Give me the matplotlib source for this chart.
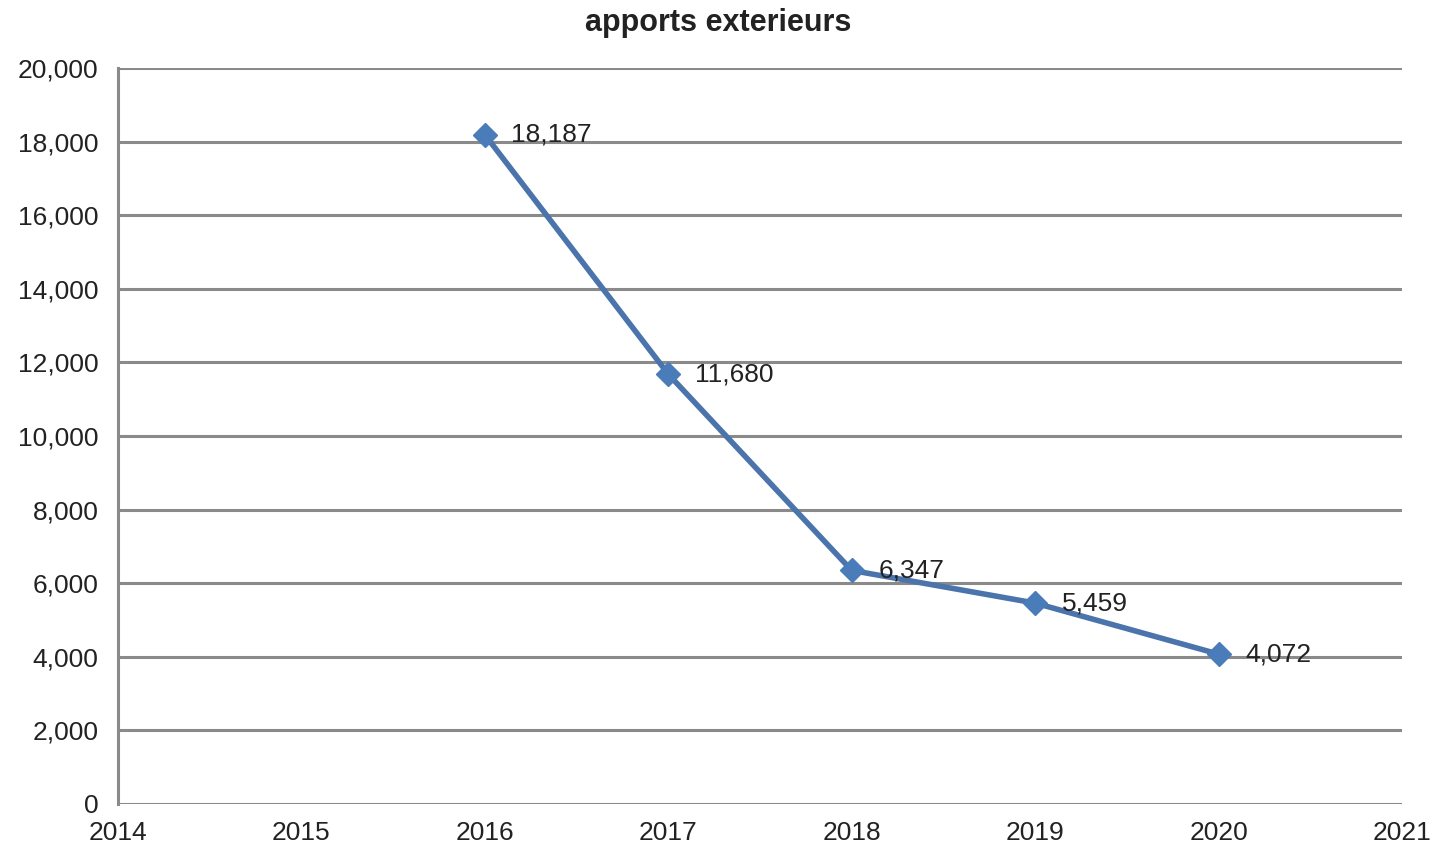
import matplotlib
matplotlib.use("Agg")
from matplotlib import pyplot as plt

# data
years = [2016, 2017, 2018, 2019, 2020]
values = [18187, 11680, 6347, 5459, 4072]
labels = ["18,187", "11,680", "6,347", "5,459", "4,072"]
x_ticks = [2014, 2015, 2016, 2017, 2018, 2019, 2020, 2021]
y_ticks = [0, 2000, 4000, 6000, 8000, 10000, 12000, 14000, 16000, 18000, 20000]

plt.rcParams['font.family'] = ['Liberation Sans', 'DejaVu Sans']

fig = plt.figure(figsize=(14.37, 8.48), dpi=100)
ax = fig.add_axes([0.0821, 0.0519, 0.8936, 0.8679])

grid_color = "#8a8a8a"
for y in y_ticks:
    ax.axhline(y, color=grid_color, linewidth=2.2, zorder=1)

ax.plot(years, values, color="#4a74ab", linewidth=4, marker="D",
        markersize=12, markerfacecolor="#4a7cba", markeredgecolor="#4a7cba", zorder=3)

for x, y, lab in zip(years, values, labels):
    ax.annotate(lab, (x, y), xytext=(19, 0), textcoords="offset points",
                ha="left", va="center", fontsize=19, color="#222222", zorder=4)

ax.set_xlim(2014, 2021)
ax.set_ylim(0, 20000)
ax.set_xticks(x_ticks)
ax.set_xticklabels([str(v) for v in x_ticks])
ax.set_yticks(y_ticks)
ax.set_yticklabels(["{:,}".format(v) for v in y_ticks])
ax.tick_params(length=0, labelsize=19, colors="#222222", pad=14)
ax.tick_params(axis="x", pad=12)

for side in ["top", "right", "bottom"]:
    ax.spines[side].set_visible(False)
ax.spines["left"].set_color(grid_color)
ax.spines["left"].set_linewidth(2.2)

fig.text(0.5, 0.973, "apports exterieurs", ha="center", va="center",
         fontsize=22, fontweight="bold", color="#222222")

fig.savefig("out.png", dpi=100)
